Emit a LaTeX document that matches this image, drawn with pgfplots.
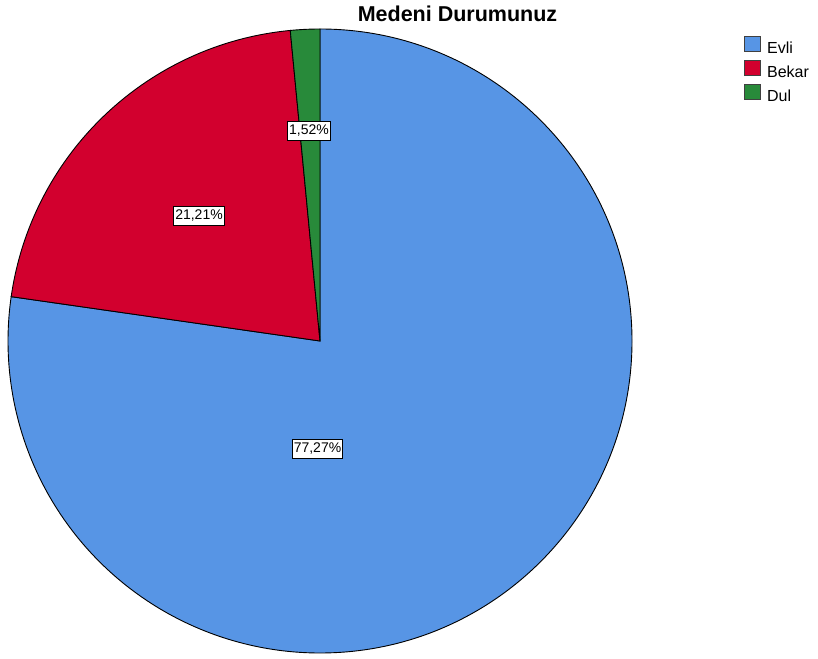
\documentclass[border=0pt]{standalone}
\usepackage{pgfplots}
\pgfplotsset{compat=1.18}
\usepackage{pgfplotstable}
\usepackage{fontspec}
\setmainfont{Liberation Sans}
\definecolor{evli}{RGB}{87,149,229}
\definecolor{bekar}{RGB}{210,0,46}
\definecolor{dul}{RGB}{40,138,58}
\pgfplotstableread{
name pct
Evli 77.27
Bekar 21.21
Dul 1.52
}\piedata
\begin{document}
\begin{tikzpicture}
\pgfplotstablegetelem{0}{pct}\of\piedata \let\pA\pgfplotsretval
\pgfplotstablegetelem{1}{pct}\of\piedata \let\pB\pgfplotsretval
\pgfplotstablegetelem{2}{pct}\of\piedata \let\pC\pgfplotsretval
\pgfmathsetmacro{\aA}{90}
\pgfmathsetmacro{\bA}{90-3.6*\pA}
\pgfmathsetmacro{\bB}{\bA-3.6*\pB}
\pgfmathsetmacro{\bC}{\bB-3.6*\pC}
\begin{axis}[x=1pt,y=1pt,xmin=0,xmax=818,ymin=0,ymax=658,scale only axis,
  hide axis, anchor=south west, at={(0,0)}, clip=false,
  legend style={at={(axis cs:744,622)}, anchor=north west, draw=none, fill=none,
    font=\fontsize{16}{19}\selectfont, row sep=3pt, inner sep=0pt,
    nodes={inner sep=0pt, text height=12pt, text depth=4pt},
    /tikz/every odd column/.append style={column sep=6pt}},
  legend cell align=left,
  legend image code/.code={\draw[#1,draw=black!75,line width=0.9pt] (0pt,-2.5pt) rectangle (16pt,12.5pt);}]
\addlegendimage{fill=evli}\addlegendentry{Evli}
\addlegendimage{fill=bekar}\addlegendentry{Bekar}
\addlegendimage{fill=dul}\addlegendentry{Dul}
\filldraw[fill=evli,draw=black,line width=0.9pt] (axis cs:320,317) -- ++(\aA:312pt) arc[start angle=\aA,end angle=\bA,radius=312pt] -- cycle;
\filldraw[fill=bekar,draw=black,line width=0.9pt] (axis cs:320,317) -- ++(\bA:312pt) arc[start angle=\bA,end angle=\bB,radius=312pt] -- cycle;
\filldraw[fill=dul,draw=black,line width=0.9pt] (axis cs:320,317) -- ++(\bB:312pt) arc[start angle=\bB,end angle=\bC,radius=312pt] -- cycle;
\tikzset{lbl/.style={draw=black,fill=white,inner xsep=1.5pt,inner ysep=3.5pt,text height=10pt,text depth=2pt,line width=0.7pt,font=\fontsize{14}{16}\selectfont}}
\node[lbl] at (axis cs:317.5,209) {77,27\%};
\node[lbl] at (axis cs:199,442.5) {21,21\%};
\node[lbl] at (axis cs:309,527) {1,52\%};
\node[anchor=base,inner sep=0pt,font=\bfseries\fontsize{21.5}{24}\selectfont] at (axis cs:457.5,636) {Medeni Durumunuz};
\end{axis}
\path[use as bounding box] (0,0) rectangle (818pt,658pt);
\end{tikzpicture}
\end{document}
